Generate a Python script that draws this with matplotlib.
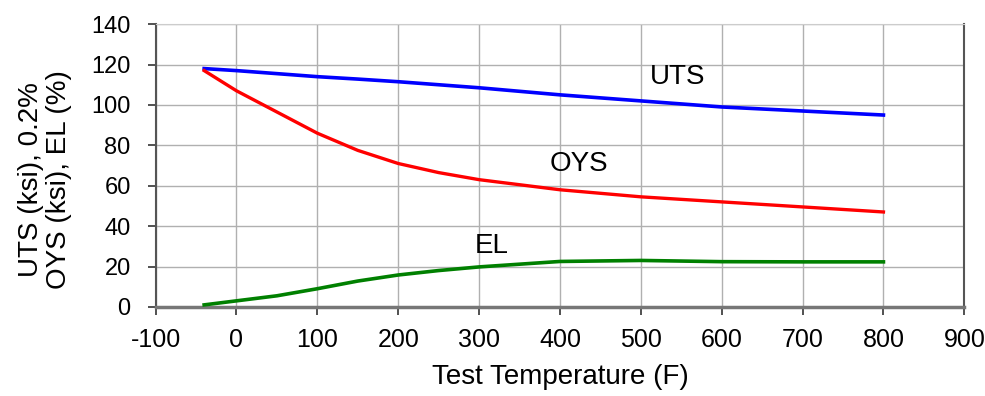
import matplotlib
matplotlib.use("Agg")
import matplotlib.pyplot as plt

# Test temperatures (F)
temps = [-40, 0, 50, 100, 150, 200, 250, 300, 400, 500, 600, 700, 800]

# Values
uts = [118, 117, 115.5, 114, 112.8, 111.5, 110, 108.5, 105, 102, 99, 97, 95]
oys = [117, 107, 96.5, 86, 77.5, 71, 66.5, 63, 58, 54.5, 52, 49.5, 47]
el = [1, 3, 5.5, 9, 12.8, 15.8, 18, 19.8, 22.5, 23, 22.4, 22.3, 22.3]

plt.rcParams['font.family'] = ['Liberation Sans', 'DejaVu Sans']

fig = plt.figure(figsize=(9.85, 3.96), dpi=100)
ax = fig.add_axes([0.158, 0.225, 0.821, 0.714])

ax.plot(temps, uts, color='#0000ff', lw=2.6, zorder=3)
ax.plot(temps, oys, color='#ff0000', lw=2.4, zorder=3)
ax.plot(temps, el, color='#008000', lw=2.6, zorder=3)

# curve labels
ax.text(545, 114, "UTS", fontsize=20, ha='center', va='center')
ax.text(423, 71, "OYS", fontsize=20, ha='center', va='center')
ax.text(316, 30, "EL", fontsize=20, ha='center', va='center')

ax.set_xlim(-100, 900)
ax.set_ylim(0, 140)
ax.set_xticks(range(-100, 1000, 100))
ax.set_yticks(range(0, 160, 20))
ax.set_xticklabels([str(t) for t in range(-100, 1000, 100)])
ax.tick_params(axis='both', direction='out', length=6,
               color='#333333', width=1.2)
ax.tick_params(axis='x', labelsize=18, pad=9)
ax.tick_params(axis='y', labelsize=17, pad=12)
ax.grid(True, color='#b0b0b0', lw=1)
ax.set_axisbelow(True)

for side in ['left', 'right']:
    ax.spines[side].set_color('#555555')
    ax.spines[side].set_linewidth(1.5)
ax.spines['top'].set_color('#cccccc')
ax.spines['bottom'].set_linewidth(2.5)
ax.spines['bottom'].set_color('#777777')

ax.set_xlabel("Test Temperature (F)", fontsize=20, labelpad=9)
ax.set_ylabel("UTS (ksi), 0.2%\nOYS (ksi), EL (%)", fontsize=20,
              linespacing=1.1)
ax.yaxis.set_label_coords(-0.103, 0.45)

fig.savefig("out.png", dpi=100)
